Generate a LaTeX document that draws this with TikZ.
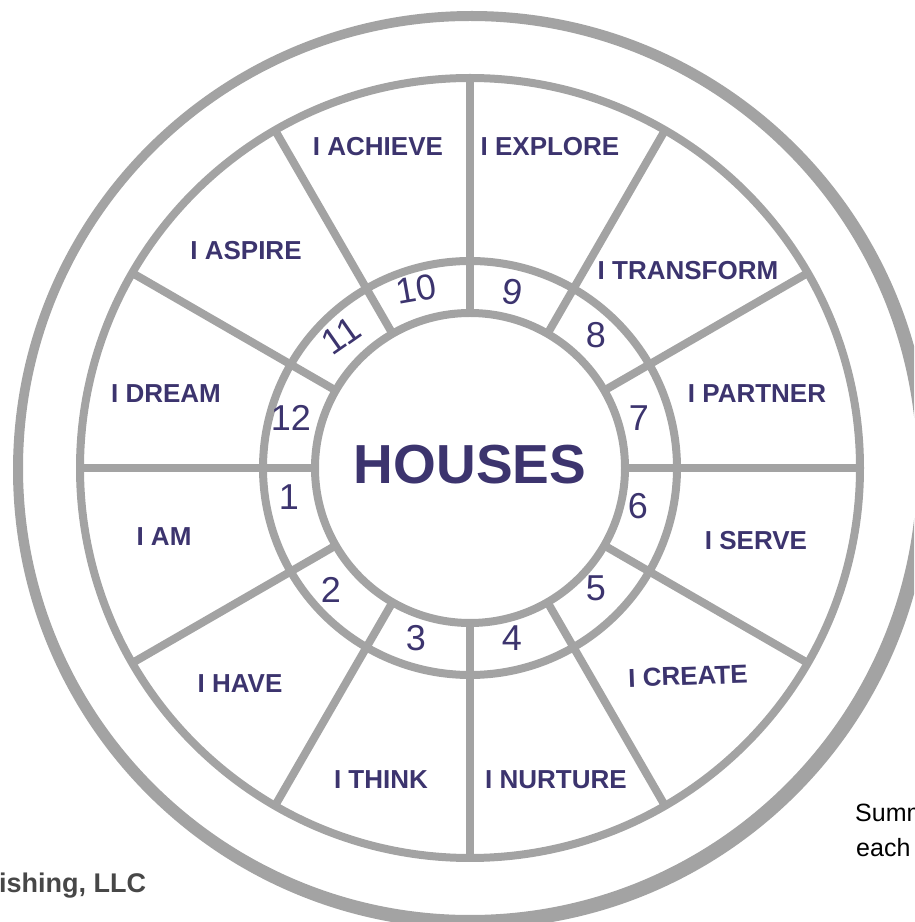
\documentclass[tikz,border=0pt]{standalone}
\usepackage{fontspec}
\setmainfont{Liberation Sans}
\usepackage{xcolor}
\usetikzlibrary{calc,positioning}

\definecolor{wheelgray}{RGB}{163,163,163}
\definecolor{housenavy}{RGB}{60,52,110}

\begin{document}
\begin{tikzpicture}[
    x=1pt, y=1pt,
    every node/.style={inner sep=0pt},
    lbl/.style={font=\fontsize{26}{30}\selectfont\bfseries, text=housenavy},
    num/.style={font=\fontsize{36}{40}\selectfont, text=housenavy},
    ring/.style={draw=wheelgray, line width=8pt},
    spoke/.style={draw=wheelgray, line width=8pt},
    side/.style={font=\fontsize{25}{30}\selectfont, anchor=base west}
]
\useasboundingbox (0,0) rectangle (914,922);
\clip (0,0) rectangle (914,922);
\coordinate (c) at (470,454);

% outer rim, a bit heavier to the lower right
\fill[wheelgray, even odd rule] ($(c)+(2,-2)$) circle[radius=459] (c) circle[radius=447];

% spokes, then the rings on top
\foreach \a in {0,30,...,330}
    \draw[spoke] ($(c)+(\a:155)$) -- ($(c)+(\a:390)$);
\draw[ring] (c) circle[radius=390];
\draw[ring] (c) circle[radius=207];
\draw[ring] (c) circle[radius=155];

\node[font=\fontsize{55}{60}\selectfont\bfseries, text=housenavy] (houses) at (470,457) {HOUSES};

% house numbers
\node[num]            (n1)  at (289,425) {1};
\node[num]            (n2)  at (331,332) {2};
\node[num]            (n3)  at (416,284) {3};
\node[num]            (n4)  at (512,284) {4};
\node[num]            (n5)  at (596,334) {5};
\node[num]            (n6)  at (638,416) {6};
\node[num]            (n7)  at (639,504) {7};
\node[num]            (n8)  at (596,587) {8};
\node[num, rotate=-10](n9)  at (513,630) {9};
\node[num, rotate=10] (n10) at (416,633) {10};
\node[num, rotate=35] (n11) at (341,586) {11};
\node[num]            (n12) at (291,504) {12};

% house meanings
\node[lbl]            (am)        at (164,385) {I AM};
\node[lbl]            (have)      at (240,238) {I HAVE};
\node[lbl]            (think)     at (381,142) {I THINK};
\node[lbl]            (nurture)   at (556,142) {I NURTURE};
\node[lbl, rotate=2]  (create)    at (688,246) {I CREATE};
\node[lbl]            (serve)     at (756,381) {I SERVE};
\node[lbl]            (partner)   at (757,528) {I PARTNER};
\node[lbl]            (transform) at (688,651) {I TRANSFORM};
\node[lbl]            (explore)   at (550,775) {I EXPLORE};
\node[lbl]            (achieve)   at (378,775) {I ACHIEVE};
\node[lbl]            (aspire)    at (246,671) {I ASPIRE};
\node[lbl]            (dream)     at (166,528) {I DREAM};

% cut-off texts at the edges
\node[side, font=\fontsize{27}{30}\selectfont\bfseries, text=black!72] (pub) at (-1,30) {ishing, LLC};
\node[side] (summ) at (855,100) {Summ};
\node[side] (each) at (856,65) {each};
\end{tikzpicture}
\end{document}
